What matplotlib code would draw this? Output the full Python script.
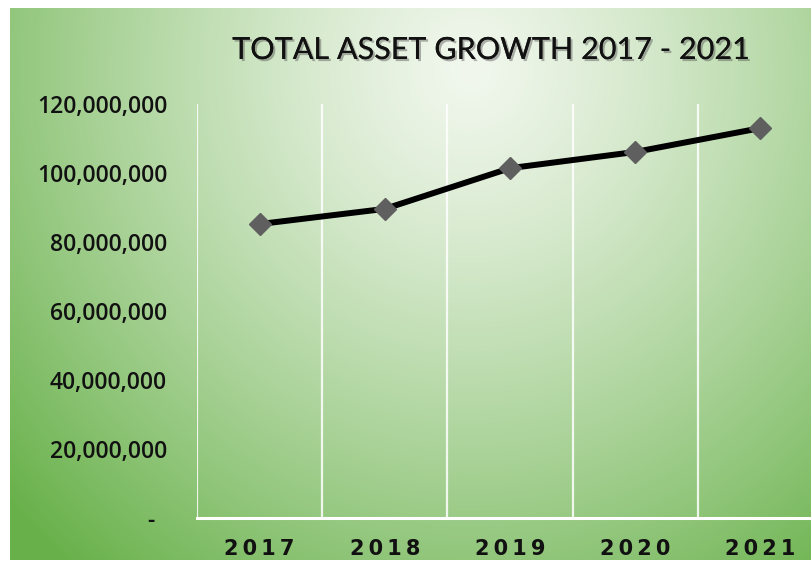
import numpy as np
import matplotlib.pyplot as plt
import matplotlib.patheffects as pe
from matplotlib.colors import to_rgb

# total assets per year
years = ['2017', '2018', '2019', '2020', '2021']
total_assets = [85200000, 89600000, 101400000, 106100000, 113000000]
y_ticks = [0, 20000000, 40000000, 60000000, 80000000, 100000000, 120000000]

W, H = 812, 563
fig = plt.figure(figsize=(W / 100, H / 100), dpi=100, facecolor='white')

# radial green gradient behind everything
bg = fig.add_axes([10 / W, 3 / H, 802 / W, 552 / H], zorder=0)
gx, gy = np.meshgrid(np.arange(802) + 10, np.arange(552) + 8)
d = np.sqrt(((gx - 470) / 620.0) ** 2 + ((gy - 70) / 650.0) ** 2)
t = np.clip(d, 0, 1) ** 1.25
light = np.array(to_rgb('#f1f7ed'))
dark = np.array(to_rgb('#68b14a'))
img = light[None, None, :] * (1 - t[..., None]) + dark[None, None, :] * t[..., None]
bg.imshow(img, aspect='auto', interpolation='bilinear')
bg.axis('off')

ax = fig.add_axes([197 / W, 1 - 518 / H, 626 / W, 414 / H], zorder=1)
ax.set_facecolor('none')

x = np.arange(len(years))
ax.plot(x, total_assets, color='black', linewidth=4.3, zorder=3,
        solid_capstyle='round')
ax.plot(x, total_assets, linestyle='none', marker='D', markersize=11.5,
        color='#5f5f5f', zorder=4)

ax.set_xlim(-0.5, len(years) - 0.5)
ax.set_ylim(0, 120000000)

# vertical grid lines between categories
for b in np.arange(-0.5, len(years) - 0.5, 1.0):
    ax.axvline(b, color='white', linewidth=1.6, alpha=0.85, zorder=1)
ax.axhline(0, color='white', linewidth=2.2, zorder=2, clip_on=False)

for s in ax.spines.values():
    s.set_visible(False)

ax.set_yticks(y_ticks)
ax.set_yticklabels(['-  '] + [f'{v:,}' for v in y_ticks[1:]],
                   fontsize=16.5, fontweight='semibold', family='Open Sans',
                   color='#111111')
ax.tick_params(axis='y', length=0, pad=21.5)

ax.set_xticks(x)
ax.set_xticklabels(['\u2009'.join(y) for y in years], fontsize=15,
                   fontweight='bold', family='DejaVu Sans', color='#111111')
ax.tick_params(axis='x', length=0, pad=15)

title = fig.text(490 / W, 1 - 50 / H, 'TOTAL ASSET GROWTH 2017 - 2021',
                 ha='center', va='center', fontsize=22,
                 family='Lato', color='#111111', zorder=5)
title.set_path_effects([pe.withSimplePatchShadow(offset=(1.5, -1.5),
                                                 shadow_rgbFace='#555555',
                                                 alpha=0.45),
                        pe.Normal()])

fig.savefig('out.png', dpi=100, facecolor='white')
